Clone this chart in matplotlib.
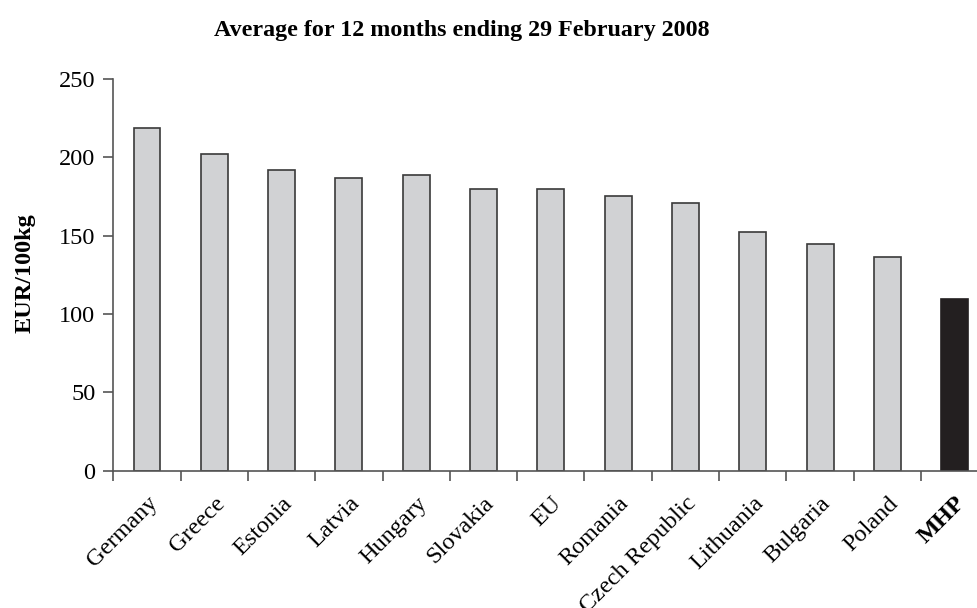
import numpy as np
import matplotlib
matplotlib.use("Agg")
import matplotlib.pyplot as plt

countries = ["Germany", "Greece", "Estonia", "Latvia", "Hungary", "Slovakia", "EU",
             "Romania", "Czech Republic", "Lithuania", "Bulgaria", "Poland", "MHP"]
prices = [218.5, 202, 192, 187, 189, 179.5, 180, 175.5, 171, 152.5, 144.5, 136.5, 109.5]
yticks = [0, 50, 100, 150, 200, 250]

plt.rcParams['font.family'] = ['Liberation Serif', 'DejaVu Serif']

fig = plt.figure(figsize=(9.77, 6.08), dpi=100)
ax = fig.add_axes([0.116, 0.2258, 0.8956, 0.6443])

x = np.arange(len(countries))
colors = ['#d1d2d4'] * (len(countries) - 1) + ['#231f20']
edges = ['#3a3a3a'] * (len(countries) - 1) + ['#231f20']
ax.bar(x, prices, width=0.4, color=colors, edgecolor=edges, linewidth=1.2, zorder=2)

ax.set_xlim(-0.5, len(countries) - 0.5)
ax.set_ylim(0, 250)
ax.set_yticks(yticks)
ax.set_yticklabels([str(v) for v in yticks], fontsize=17.5)
ax.tick_params(axis='y', direction='out', length=7, width=1.2, color='#555555', pad=6)

# ticks sit between the categories, labels at the bar centres
ax.set_xticks(x - 0.5)
ax.set_xticklabels([])
ax.tick_params(axis='x', direction='out', length=7, width=1.2, color='#555555')
for xi, name in zip(x, countries):
    bold = name == "MHP"
    ax.text(xi, -14, name, rotation=45, ha='right', va='top',
            rotation_mode='anchor', fontsize=17.5,
            fontweight='bold' if bold else 'normal')

for side in ['top', 'right']:
    ax.spines[side].set_visible(False)
for side in ['left', 'bottom']:
    ax.spines[side].set_color('#555555')
    ax.spines[side].set_linewidth(1.2)

fig.text(0.473, 0.95, "Average for 12 months ending 29 February 2008",
         ha='center', va='center', fontsize=17.3, fontweight='bold')
fig.text(0.026, 0.55, "EUR/100kg", rotation=90, ha='center', va='center',
         fontsize=17.5, fontweight='bold')

fig.savefig("out.png", dpi=100)
